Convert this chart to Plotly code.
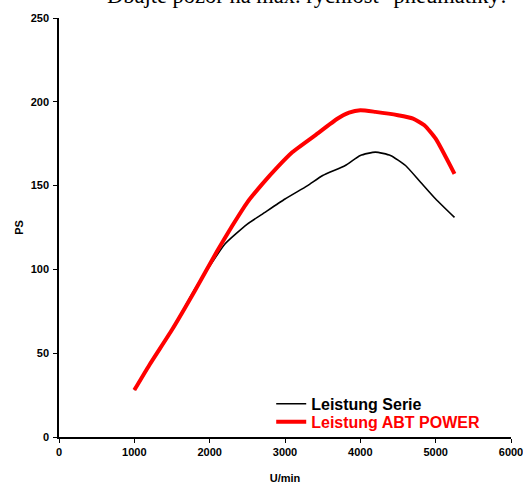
import plotly.graph_objects as go

# Data
rpm_abt = [1000, 1200, 1500, 1800, 2100, 2300, 2500, 2700, 2900, 3100, 3400, 3700, 3850, 4000, 4200, 4500, 4700, 4850, 5000, 5250]
ps_abt = [28, 43, 64, 87, 111, 126, 140, 151, 161, 170, 180, 190, 193.5, 195, 194, 192, 190, 186, 178, 157]

rpm_serie = [1000, 1200, 1500, 1800, 1900, 2200, 2500, 2700, 3000, 3300, 3500, 3800, 4000, 4200, 4400, 4600, 4800, 5000, 5250]
ps_serie = [28, 43, 64, 88, 95, 115, 127, 133, 142, 150, 156, 162, 168, 170, 168, 162, 152, 142, 131]

x_ticks = [0, 1000, 2000, 3000, 4000, 5000, 6000]
y_ticks = [0, 50, 100, 150, 200, 250]

title_text = "Dbajte pozor na max. rýchlosť  pneumatiky!"
x_title = "U/min"
y_title = "PS"
name_serie = "Leistung Serie"
name_abt = "Leistung ABT POWER"

fig = go.Figure()
fig.add_trace(go.Scatter(x=rpm_serie, y=ps_serie, mode="lines", name=name_serie, legend="legend",
                         line=dict(color="black", width=1.6, shape="spline", smoothing=0.5)))
fig.add_trace(go.Scatter(x=rpm_abt, y=ps_abt, mode="lines", legend="legend2",
                         name="<span style='color:#ff0000'>" + name_abt + "</span>",
                         line=dict(color="#ff0000", width=4, shape="spline", smoothing=0.5)))

axis_font = dict(family="Liberation Sans, Arial, sans-serif", size=11, color="black", weight="bold")
legend_font = dict(family="Liberation Sans, Arial, sans-serif", size=16, color="black", weight="bold")

fig.update_layout(
    width=523, height=484,
    margin=dict(l=59, r=12, t=18, b=47, autoexpand=False),
    paper_bgcolor="white", plot_bgcolor="white",
    showlegend=True,
    legend=dict(x=0.4695, y=0.079, xanchor="left", yanchor="middle",
                font=legend_font, bgcolor="rgba(0,0,0,0)"),
    legend2=dict(x=0.4695, y=0.036, xanchor="left", yanchor="middle",
                 font=legend_font, bgcolor="rgba(0,0,0,0)"),
    xaxis=dict(range=[0, 6000], tickvals=x_ticks, ticktext=[str(v) for v in x_ticks],
               showgrid=False, zeroline=False, showline=True, linecolor="black", linewidth=1.5,
               ticks="outside", ticklen=4, tickwidth=1.2, tickcolor="black",
               tickfont=axis_font, ticklabeloverflow="allow", automargin=False,
               title=dict(text=x_title, font=axis_font, standoff=21)),
    yaxis=dict(range=[0, 250], tickvals=y_ticks, ticktext=[str(v) for v in y_ticks],
               showgrid=False, zeroline=False, showline=True, linecolor="black", linewidth=1.5,
               ticks="outside", ticklen=4, tickwidth=1.2, tickcolor="black",
               tickfont=axis_font, ticklabeloverflow="allow", automargin=False,
               ticklabelstandoff=2,
               title=dict(text=y_title, font=axis_font, standoff=5)),
    annotations=[dict(text=title_text, xref="paper", yref="paper", x=0.548, y=1.019,
                      xanchor="center", yanchor="bottom", showarrow=False,
                      font=dict(family="Liberation Serif, Times New Roman, serif", size=22.5, color="black"))],
)

fig.write_html("out.html", config={"displayModeBar": False},
               post_script="document.body.style.margin='0';document.body.style.overflow='hidden';")
